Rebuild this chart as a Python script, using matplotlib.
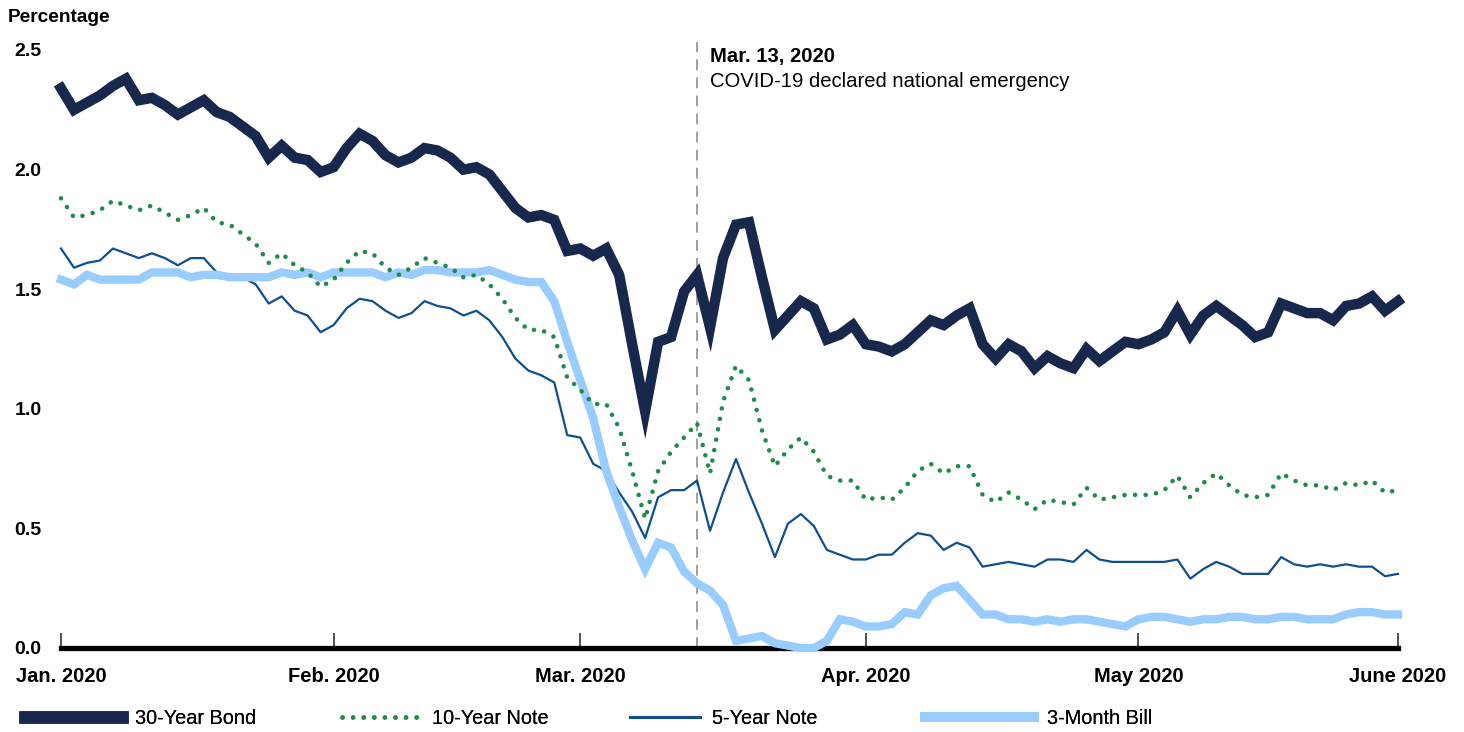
import matplotlib
matplotlib.use("Agg")
import matplotlib.pyplot as plt
from matplotlib.lines import Line2D
import numpy as np
import pandas as pd

# Trading days Jan 2 - Jun 1, 2020 (bond market holidays removed)
holidays = ["2020-01-20", "2020-02-17", "2020-04-10", "2020-05-25"]
dates = pd.bdate_range("2020-01-02", "2020-06-01").drop(pd.to_datetime(holidays))

bond_30y = [2.34, 2.25, 2.28, 2.31, 2.35, 2.38, 2.29, 2.30, 2.27, 2.23, 2.26, 2.29, 2.24, 2.22,
            2.18, 2.14, 2.05, 2.10, 2.05, 2.04, 1.99, 2.01, 2.09, 2.15, 2.12, 2.06, 2.03, 2.05,
            2.09, 2.08, 2.05, 2.00, 2.01, 1.98, 1.91, 1.84, 1.80, 1.81, 1.79, 1.66, 1.67, 1.64,
            1.67, 1.56, 1.27, 0.99, 1.28, 1.30, 1.49, 1.56, 1.34, 1.63, 1.77, 1.78, 1.55, 1.33,
            1.39, 1.45, 1.42, 1.29, 1.31, 1.35, 1.27, 1.26, 1.24, 1.27, 1.32, 1.37, 1.35, 1.39,
            1.42, 1.27, 1.21, 1.27, 1.24, 1.17, 1.22, 1.19, 1.17, 1.25, 1.20, 1.24, 1.28, 1.27,
            1.29, 1.32, 1.41, 1.31, 1.39, 1.43, 1.39, 1.35, 1.30, 1.32, 1.44, 1.42, 1.40, 1.40,
            1.37, 1.43, 1.44, 1.47, 1.41, 1.45]
note_10y = [1.88, 1.80, 1.81, 1.83, 1.87, 1.85, 1.83, 1.85, 1.82, 1.79, 1.81, 1.84, 1.78, 1.77,
            1.73, 1.69, 1.61, 1.65, 1.60, 1.57, 1.51, 1.54, 1.61, 1.66, 1.65, 1.59, 1.56, 1.59,
            1.63, 1.61, 1.59, 1.55, 1.56, 1.52, 1.46, 1.38, 1.33, 1.33, 1.30, 1.13, 1.08, 1.02,
            1.02, 0.92, 0.74, 0.54, 0.74, 0.82, 0.88, 0.94, 0.73, 1.03, 1.18, 1.12, 0.91, 0.76,
            0.83, 0.88, 0.82, 0.72, 0.70, 0.70, 0.62, 0.63, 0.62, 0.67, 0.74, 0.77, 0.73, 0.76,
            0.76, 0.64, 0.61, 0.65, 0.62, 0.58, 0.62, 0.61, 0.60, 0.67, 0.62, 0.63, 0.64, 0.64,
            0.64, 0.66, 0.72, 0.63, 0.69, 0.73, 0.68, 0.64, 0.63, 0.64, 0.73, 0.70, 0.68, 0.68,
            0.66, 0.69, 0.68, 0.70, 0.65, 0.66]
note_5y = [1.67, 1.59, 1.61, 1.62, 1.67, 1.65, 1.63, 1.65, 1.63, 1.60, 1.63, 1.63, 1.57, 1.56,
           1.55, 1.52, 1.44, 1.47, 1.41, 1.39, 1.32, 1.35, 1.42, 1.46, 1.45, 1.41, 1.38, 1.40,
           1.45, 1.43, 1.42, 1.39, 1.41, 1.37, 1.30, 1.21, 1.16, 1.14, 1.11, 0.89, 0.88, 0.77,
           0.74, 0.65, 0.57, 0.46, 0.63, 0.66, 0.66, 0.70, 0.49, 0.65, 0.79, 0.65, 0.52, 0.38,
           0.52, 0.56, 0.51, 0.41, 0.39, 0.37, 0.37, 0.39, 0.39, 0.44, 0.48, 0.47, 0.41, 0.44,
           0.42, 0.34, 0.35, 0.36, 0.35, 0.34, 0.37, 0.37, 0.36, 0.41, 0.37, 0.36, 0.36, 0.36,
           0.36, 0.36, 0.37, 0.29, 0.33, 0.36, 0.34, 0.31, 0.31, 0.31, 0.38, 0.35, 0.34, 0.35,
           0.34, 0.35, 0.34, 0.34, 0.30, 0.31]
bill_3m = [1.54, 1.52, 1.56, 1.54, 1.54, 1.54, 1.54, 1.57, 1.57, 1.57, 1.55, 1.56, 1.56, 1.55,
           1.55, 1.55, 1.55, 1.57, 1.56, 1.57, 1.55, 1.57, 1.57, 1.57, 1.57, 1.55, 1.57, 1.56,
           1.58, 1.58, 1.57, 1.57, 1.57, 1.58, 1.56, 1.54, 1.53, 1.53, 1.45, 1.28, 1.12, 0.96,
           0.74, 0.59, 0.45, 0.33, 0.44, 0.42, 0.32, 0.27, 0.24, 0.18, 0.03, 0.04, 0.05, 0.02,
           0.01, 0.00, 0.00, 0.03, 0.12, 0.11, 0.09, 0.09, 0.10, 0.15, 0.14, 0.22, 0.25, 0.26,
           0.20, 0.14, 0.14, 0.12, 0.12, 0.11, 0.12, 0.11, 0.12, 0.12, 0.11, 0.10, 0.09, 0.12,
           0.13, 0.13, 0.12, 0.11, 0.12, 0.12, 0.13, 0.13, 0.12, 0.12, 0.13, 0.13, 0.12, 0.12,
           0.12, 0.14, 0.15, 0.15, 0.14, 0.14]

month_labels = ["Jan. 2020", "Feb. 2020", "Mar. 2020", "Apr. 2020", "May 2020", "June 2020"]
event_date = "2020-03-13"
event_title = "Mar. 13, 2020"
event_text = "COVID-19 declared national emergency"

plt.rcParams["font.family"] = ["Liberation Sans", "DejaVu Sans"]

fig = plt.figure(figsize=(14.64, 7.32), dpi=100)
ax = fig.add_axes([61 / 1464, 1 - 648 / 732, (1398 - 61) / 1464, 598 / 732])

C30, C10, C5, C3 = "#17284c", "#1e8a4c", "#0f4f8f", "#99ccff"
dots = (0, (0.01, 2.3))

x = np.arange(len(dates))
ax.plot(x, note_5y, color=C5, lw=1.6, zorder=3, clip_on=False)
ax.plot(x, bill_3m, color=C3, lw=6, zorder=3.2, clip_on=False, solid_joinstyle="miter")
ax.plot(x, note_10y, color=C10, lw=3.3, ls=dots, dash_capstyle="round", zorder=3.4, clip_on=False)
ax.plot(x, bond_30y, color=C30, lw=7.5, zorder=3.6, clip_on=False, solid_joinstyle="miter")

ev = dates.get_loc(pd.Timestamp(event_date))
ax.axvline(ev, ymin=0, ymax=1.013, color="#999999", lw=1.3, ls=(0, (6, 4)), clip_on=False, zorder=1)
ax.annotate(event_title, xy=(ev, 2.5), xytext=(9, -5), textcoords="offset points",
            fontsize=14.6, fontweight="bold", va="center", ha="left", color="black")
ax.annotate(event_text, xy=(ev, 2.5), xytext=(9, -23), textcoords="offset points",
            fontsize=14.6, va="center", ha="left", color="black")

ax.set_xlim(0, len(dates) - 1)
ax.set_ylim(0, 2.5)

month_starts = [i for i in range(len(dates)) if i == 0 or dates[i].month != dates[i - 1].month]
ax.set_xticks(month_starts)
ax.set_xticklabels(month_labels, fontsize=14.5, fontweight="bold")
ax.set_yticks([0, 0.5, 1.0, 1.5, 2.0, 2.5])
ax.set_yticklabels(["0.0", "0.5", "1.0", "1.5", "2.0", "2.5"], fontsize=14, fontweight="bold")
ax.tick_params(axis="x", direction="in", length=11, width=1.2, color="#333333", pad=14)
ax.tick_params(axis="y", length=0, pad=14)

for s in ["top", "right", "left"]:
    ax.spines[s].set_visible(False)
ax.spines["bottom"].set_linewidth(3.8)
ax.spines["bottom"].set_color("black")

fig.text(8 / 1464, 1 - 18 / 732, "Percentage", fontsize=13.8, fontweight="bold", va="center", ha="left")

# one legend per entry so each handle keeps its own length and place
legend_items = [
    ("30-Year Bond", Line2D([], [], color=C30, lw=9), 25, 4.9),
    ("10-Year Note", Line2D([], [], color=C10, lw=3.3, ls=dots, dash_capstyle="round"), 342, 3.9),
    ("5-Year Note", Line2D([], [], color=C5, lw=2.2), 630, 3.5),
    ("3-Month Bill", Line2D([], [], color=C3, lw=7), 925, 5.5),
]
for label, handle, left_px, hlen in legend_items:
    leg = fig.legend([handle], [label], loc="center left", bbox_to_anchor=(left_px / 1464, 14 / 732),
                     frameon=False, fontsize=14.3, handlelength=hlen, handletextpad=0.65,
                     borderpad=0, borderaxespad=0)
    fig.add_artist(leg)

fig.savefig("out.png", dpi=100)
